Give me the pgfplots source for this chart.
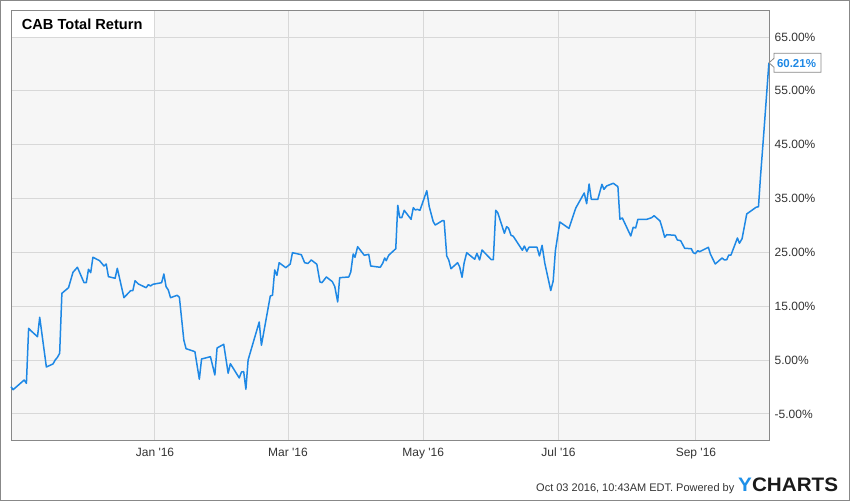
\documentclass[border=0pt]{standalone}
\usepackage{pgfplots}
\pgfplotsset{compat=1.18}
\usepackage{pgfplotstable}
\usepackage{fontspec}
\setmainfont{Liberation Sans}[Ligatures=TeXOff]

\definecolor{linecol}{RGB}{30,136,229}
\definecolor{bgcol}{RGB}{246,246,246}
\definecolor{gridcol}{RGB}{216,216,216}
\definecolor{framecol}{RGB}{136,136,136}
\definecolor{labelcol}{RGB}{51,51,51}
\definecolor{logoblue}{RGB}{30,144,232}
\definecolor{logodark}{RGB}{26,26,26}

% CAB total return (%), x = days from 1 Jan 2016
\pgfplotstableread{
day ret
-64.95 0.07
-64 -0.49
-59 1.31
-58 0.70
-57 10.91
-56 10.47
-53 9.35
-52 12.96
-49 3.73
-46 4.29
-45 5.03
-44 5.53
-43 6.27
-42 17.41
-39 18.45
-37 21.31
-35 22.24
-32 19.38
-31 19.38
-30 21.87
-29 21.24
-28 24.10
-25 23.47
-23 22.48
-22 22.85
-21 20.50
-18 20.20
-17 22.05
-14 16.60
-11 17.90
-10 17.90
-9 19.75
-7.5 19.14
-4 18.45
-3 19.01
-2 18.77
-1 19.08
3 19.38
4 21.00
5 18.64
6 18.03
7 16.60
10 17.04
11 16.67
13 8.74
14 7.13
18 6.57
20 1.45
21 5.21
25 5.64
25.4 4.97
27 2.24
28 7.26
31 7.94
33 2.56
34 4.34
38 1.69
39 2.80
40 2.86
41 -0.41
42 5.03
47 12.08
48 7.76
52 16.91
53 17.04
54 21.74
55 20.75
56 23.09
59 22.17
61 22.85
62 24.95
66 24.58
67.5 23.09
69 22.95
70.5 23.60
73 22.80
74.4 19.51
75.3 19.38
77.3 20.44
80 19.57
81.1 18.64
82.4 15.80
83.3 20.31
87.4 20.44
88.3 21.37
89.4 24.71
90.2 24.10
91.4 26.06
94.4 24.47
96.4 24.65
97.3 22.48
101.6 22.24
102.7 22.98
103.6 23.97
104.3 23.47
105.4 24.47
108.6 25.69
109.5 33.75
110.4 31.45
111.3 31.45
112.4 32.82
115.5 31.15
116.5 33.31
117.4 32.88
118.3 33.01
119.5 32.82
122.6 36.46
123.7 33.49
125.5 30.71
126.4 30.09
129.6 30.89
130.4 30.89
131.6 24.34
132.5 23.60
133.5 21.98
136.5 23.09
137.4 22.35
138.5 20.38
139.4 22.98
140.6 24.95
144.2 23.73
145.2 24.84
146.4 23.60
147.5 25.45
151.7 23.65
152.6 23.65
153.7 32.82
154.6 32.38
157.6 28.55
158.6 29.78
159.5 29.48
160.6 28.18
161.6 28.00
165.7 25.40
166.6 26.19
167.7 25.21
168.7 25.97
172.3 25.97
173.4 24.34
174.6 26.32
175.8 23.04
178.5 17.93
179.6 19.70
180.6 25.32
182.6 30.65
186.7 29.46
189.8 33.25
193.6 36.04
194.7 34.05
195.8 37.71
196.8 34.87
199.7 34.83
201.6 37.65
202.5 36.72
203.7 37.34
206.7 37.84
208.8 37.21
209.7 31.15
210.8 31.39
214.6 28.05
215.7 29.67
216.8 29.54
217.8 31.15
221.8 31.15
224.0 31.45
225.1 31.82
227.8 30.84
228.8 29.48
229.9 27.81
230.8 28.29
234.6 28.18
235.6 27.31
237.1 27.18
238.9 25.77
241.9 25.69
242.8 24.95
243.7 24.77
244.8 25.32
245.7 25.14
249.6 25.95
250.5 24.71
252.7 22.85
255.8 23.97
256.8 23.60
257.9 23.65
258.8 24.52
259.8 24.52
262.7 27.68
263.6 26.70
264.8 27.55
266.9 32.14
271.1 33.38
272.2 33.49
273.1 39.01
274.7 47.73
276.9 60.21
}\cabdata

\begin{document}
\begin{tikzpicture}
\useasboundingbox (0,0) rectangle (850pt,501pt);
\draw[framecol, line width=1pt] (0.5pt,0.5pt) rectangle (849.5pt,500.5pt);
\begin{axis}[
  at={(11pt,61pt)}, anchor=south west,
  scale only axis, width=758pt, height=429pt,
  xmin=-64.95, xmax=276.95, ymin=-9.83, ymax=69.83,
  axis background/.style={fill=bgcol},
  axis line style={draw=framecol, line width=1pt},
  grid=major, grid style={draw=gridcol, line width=1pt},
  major tick length=0pt,
  xtick={0,60,121,182,244},
  xticklabels={Jan '16,Mar '16,May '16,Jul '16,Sep '16},
  ytick={-5,5,15,25,35,45,55,65},
  yticklabels={-5.00\%,5.00\%,15.00\%,25.00\%,35.00\%,45.00\%,55.00\%,65.00\%},
  yticklabel pos=right,
  tick label style={font=\fontsize{12}{14}\selectfont, text=labelcol},
  xticklabel style={anchor=north, inner sep=0pt, yshift=-8pt},
  yticklabel style={anchor=west, inner sep=0pt, xshift=5.5pt},
  clip=false,
]
% title panel in the upper left corner
\fill[white] ([xshift=0.5pt,yshift=-0.5pt]rel axis cs:0,1) rectangle (axis cs:0,65);
\draw[gridcol, line width=1pt] ([yshift=-0.5pt]axis cs:0,69.83) -- (axis cs:0,65) -- ([xshift=0.5pt]axis cs:-64.95,65);

\addplot[linecol, line width=1.5pt, line join=round, mark=none] table[x=day, y=ret] {\cabdata};

% anchor for the last-value callout
\coordinate (lastval) at (axis cs:276.95,60.21);
\end{axis}

% last-value callout
\draw[framecol, fill=white, line width=0.8pt, line join=miter]
  (lastval) -- ++(5pt,4.5pt) -- ++(0pt,5pt) -- ++(47pt,0pt)
  -- ++(0pt,-19pt) -- ++(-47pt,0pt) -- ++(0pt,5pt) -- cycle;
\node[anchor=center, inner sep=0pt, text=linecol, font=\bfseries\fontsize{11.5}{13}\selectfont]
  at ([xshift=27.5pt,yshift=-0.5pt]lastval) {60.21\%};

\node[anchor=base west, inner sep=0pt, text=black, font=\bfseries\fontsize{14.6}{16}\selectfont]
  at (21.7pt,471.7pt) {CAB Total Return};

\node[anchor=base east, inner sep=0pt, text=labelcol, font=\fontsize{11}{13}\selectfont]
  at (734.5pt,9.3pt) {Oct 03 2016, 10:43AM EDT. Powered by};
\node[anchor=base west, inner sep=0pt, xscale=1.06, font=\bfseries\fontsize{19.5}{21}\selectfont]
  at (738pt,9.3pt) {\textcolor{logoblue}{Y}\textcolor{logodark}{CHARTS}};
\end{tikzpicture}
\end{document}
